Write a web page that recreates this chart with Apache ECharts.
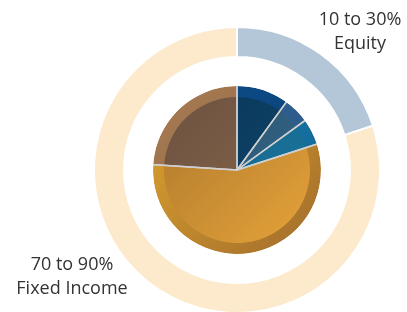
<!DOCTYPE html>
<html>
<head>
<meta charset="utf-8">
<script src="https://cdn.jsdelivr.net/npm/echarts@6/dist/echarts.min.js"></script>
<style>
  html, body { margin: 0; padding: 0; background: #fff; }
  #chart { width: 407px; height: 312px; }
</style>
</head>
<body>
<div id="chart"></div>
<script>
// outer ring: allocation
var ringNames = ['Equity', 'Fixed Income'];
var ringValues = [20, 80];
var ringColors = ['#b4c7d8', '#fde9cb'];

// inner pie: holdings
var pieNames = ['Equity A', 'Equity B', 'Equity C', 'Fixed Income A', 'Fixed Income B'];
var pieValues = [10, 5, 5, 56, 24];
// [rim top-left, rim bottom-right, inner top-left, inner bottom-right]
var pieShades = [
  ['#0d4d8c', '#0a3f70', '#0a3656', '#0e4870'],
  ['#33659a', '#2a5580', '#2a5472', '#356788'],
  ['#1a7ab0', '#116590', '#145f85', '#1b7aa0'],
  ['#e0a52f', '#a06c2c', '#a8742c', '#eaa63a'],
  ['#a87c54', '#8a6440', '#6a5040', '#8c6a4c']
];

var labels = [
  { text: '10 to 30%\nEquity', x: 360, y: 20 },
  { text: '70 to 90%\nFixed Income', x: 72, y: 265 }
];

var cx = 237, cy = 170;

function grad(c1, c2) {
  return new echarts.graphic.LinearGradient(cx - 84, cy - 84, cx + 84, cy + 84,
    [{ offset: 0, color: c1 }, { offset: 1, color: c2 }], true);
}

var myChart = echarts.init(document.getElementById('chart'));
myChart.setOption({
  animation: false,
  graphic: labels.map(function (l) {
    return {
      type: 'text',
      x: l.x,
      y: l.y - 12,
      style: {
        text: l.text,
        align: 'center',
        fill: '#333',
        font: '18px "Open Sans"',
        lineHeight: 24
      }
    };
  }),
  series: [
    {
      type: 'pie',
      center: [cx, cy],
      radius: [113, 143],
      startAngle: 90,
      silent: true,
      label: { show: false },
      itemStyle: { borderColor: '#fff', borderWidth: 2 },
      data: ringValues.map(function (v, i) {
        return { name: ringNames[i], value: v, itemStyle: { color: ringColors[i] } };
      })
    },
    {
      type: 'pie',
      center: [cx, cy],
      radius: [0, 84],
      startAngle: 90,
      silent: true,
      label: { show: false },
      data: pieValues.map(function (v, i) {
        return { name: pieNames[i], value: v, itemStyle: { color: grad(pieShades[i][0], pieShades[i][1]) } };
      })
    },
    {
      type: 'pie',
      center: [cx, cy],
      radius: [0, 73],
      startAngle: 90,
      silent: true,
      label: { show: false },
      data: pieValues.map(function (v, i) {
        return { name: pieNames[i], value: v, itemStyle: { color: grad(pieShades[i][2], pieShades[i][3]) } };
      })
    },
    {
      // separator lines between slices
      type: 'pie',
      center: [cx, cy],
      radius: [0, 86],
      startAngle: 90,
      silent: true,
      label: { show: false },
      itemStyle: { color: 'rgba(0,0,0,0)', borderColor: '#d0d0d0', borderWidth: 1.5 },
      data: pieValues.map(function (v, i) {
        return { name: pieNames[i], value: v };
      })
    },
    {
      // white gap hides the outer arc of the separators
      type: 'pie',
      center: [cx, cy],
      radius: [84, 90],
      silent: true,
      label: { show: false },
      itemStyle: { color: '#fff' },
      data: [{ name: 'gap', value: 1 }]
    }
  ]
});
</script>
</body>
</html>
